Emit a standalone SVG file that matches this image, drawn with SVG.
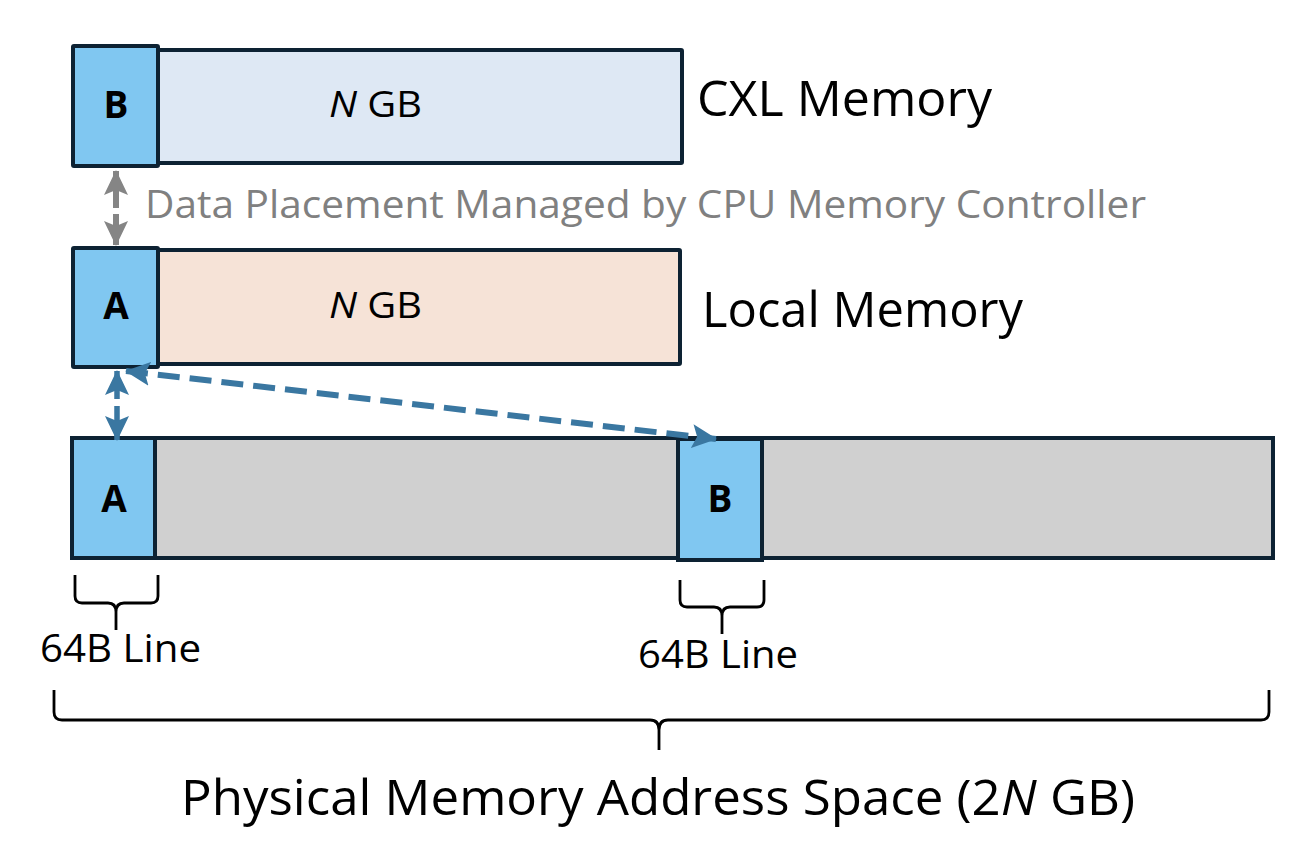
<svg xmlns="http://www.w3.org/2000/svg" width="1298" height="854" viewBox="0 0 1298 854">
<style>
.t{font-family:"Open Sans","Noto Sans","Liberation Sans",sans-serif;fill:#000}
.lbl{font-family:"Open Sans","Noto Sans","Liberation Sans",sans-serif;font-weight:bold;font-size:37px;fill:#000;text-anchor:middle}
.cell{fill:#80c7f1;stroke:#0d2233;stroke-width:4}
.brace{fill:none;stroke:#000;stroke-width:2.8;stroke-linejoin:round}
</style>
<defs>
<marker id="hg" viewBox="0 0 26 26" markerWidth="26" markerHeight="26" refX="24" refY="13" orient="auto-start-reverse" markerUnits="userSpaceOnUse">
<path d="M0,1 L25,13 L0,25 L5,13 z" fill="#858585"/>
</marker>
<marker id="hb" viewBox="0 0 26 26" markerWidth="26" markerHeight="26" refX="24" refY="13" orient="auto-start-reverse" markerUnits="userSpaceOnUse">
<path d="M0,1 L25,13 L0,25 L5,13 z" fill="#3a77a1"/>
</marker>
</defs>

<g id="cxl">
<rect x="158" y="50" width="524" height="113" fill="#dee8f4" stroke="#0d2233" stroke-width="4" rx="1"/>
<rect class="cell" x="73" y="46" width="85" height="120" rx="1"/>
<text class="lbl" x="116" y="118">B</text>
<text class="t" x="329" y="117" font-size="36" textLength="93" lengthAdjust="spacingAndGlyphs"><tspan font-style="italic">N</tspan> GB</text>
<text class="t" x="697" y="116" font-size="49" textLength="295" lengthAdjust="spacingAndGlyphs">CXL Memory</text>
</g>

<g id="local">
<rect x="158" y="250" width="522" height="114" fill="#f6e3d7" stroke="#0d2233" stroke-width="4" rx="1"/>
<rect class="cell" x="73" y="248" width="85" height="119" rx="1"/>
<text class="lbl" x="116" y="319">A</text>
<text class="t" x="329" y="318" font-size="36" textLength="93" lengthAdjust="spacingAndGlyphs"><tspan font-style="italic">N</tspan> GB</text>
<text class="t" x="702" y="327" font-size="49" textLength="321" lengthAdjust="spacingAndGlyphs">Local Memory</text>
</g>

<g id="physical">
<rect x="72" y="438" width="1201" height="120" fill="#d0d0d0" stroke="#0d2233" stroke-width="4"/>
<rect class="cell" x="72" y="438" width="83" height="120" stroke-width="5"/>
<text class="lbl" x="114" y="512">A</text>
<rect class="cell" x="678" y="439" width="84" height="121" stroke-width="5"/>
<text class="lbl" x="720" y="512">B</text>
</g>

<g id="connectors">
<line x1="116" y1="171" x2="116" y2="245" stroke="#858585" stroke-width="6" stroke-dasharray="37,6" marker-start="url(#hg)" marker-end="url(#hg)"/>
<line x1="117" y1="371" x2="117" y2="440" stroke="#3a77a1" stroke-width="5.5" stroke-dasharray="28,7,40" marker-start="url(#hb)" marker-end="url(#hb)"/>
<line x1="126" y1="371" x2="716" y2="439" stroke="#3a77a1" stroke-width="6" stroke-dasharray="22,10" marker-start="url(#hb)" marker-end="url(#hb)"/>
</g>

<g id="placement-label">
<text class="t" x="145" y="218" font-size="38" style="fill:#808080" textLength="1001" lengthAdjust="spacingAndGlyphs">Data Placement Managed by CPU Memory Controller</text>
</g>

<g id="brace-a">
<path class="brace" d="M75,575 L75,596 Q75,603 82,603 L108,603 Q116,603 116,612 L116,630 M116,612 Q116,603 124,603 L151,603 Q158,603 158,596 L158,575"/>
<text class="t" x="40" y="662" font-size="38" textLength="161" lengthAdjust="spacingAndGlyphs">64B Line</text>
</g>

<g id="brace-b">
<path class="brace" d="M680,580 L680,600 Q680,607 687,607 L714,607 Q722,607 722,616 L722,634 M722,616 Q722,607 730,607 L757,607 Q764,607 764,600 L764,580"/>
<text class="t" x="638" y="668" font-size="38" textLength="160" lengthAdjust="spacingAndGlyphs">64B Line</text>
</g>

<g id="brace-total">
<path class="brace" d="M54,690 L54,712 Q54,720 62,720 L650,720 Q659,720 659,730 L659,750 M659,730 Q659,720 668,720 L1261,720 Q1269,720 1269,712 L1269,690"/>
<text class="t" x="181" y="815" font-size="49" textLength="954" lengthAdjust="spacingAndGlyphs">Physical Memory Address Space (2<tspan font-style="italic">N</tspan> GB)</text>
</g>
</svg>
